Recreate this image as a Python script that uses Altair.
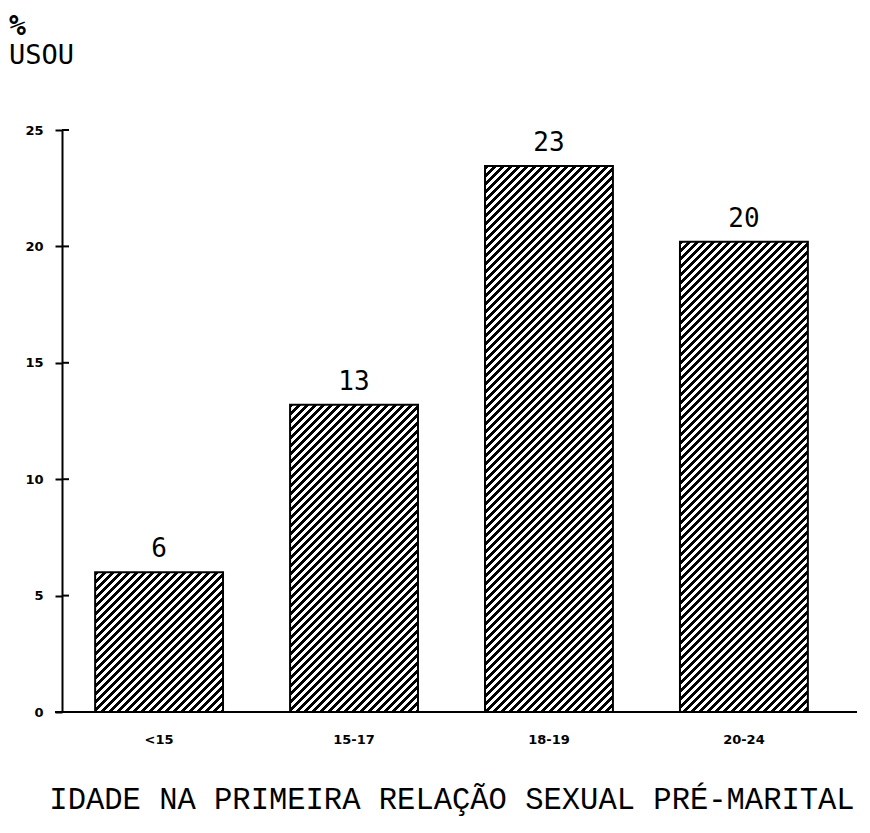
import math
import altair as alt
import pandas as pd

# ---- data ----
categories = ["<15", "15-17", "18-19", "20-24"]
values = [6.0, 13.2, 23.45, 20.2]
value_labels = ["6", "13", "23", "20"]
y_ticks = [0, 5, 10, 15, 20, 25]

# ---- layout ----
W, H = 779, 582
Y_MAX = 25
PAD_INNER, PAD_OUTER = 0.344, 0.17
HATCH_PERIOD = 8.0   # px, horizontal distance between hatch lines
HATCH_INK = 0.5      # share of each period that is black

df = pd.DataFrame({"cat": categories, "val": values, "lab": value_labels})
ticks_df = pd.DataFrame({"tick": y_ticks})

step = W / (len(categories) - PAD_INNER + 2 * PAD_OUTER)
bw = step * (1 - PAD_INNER)

x_enc = alt.X(
    "cat:N", sort=categories,
    scale=alt.Scale(paddingInner=PAD_INNER, paddingOuter=PAD_OUTER),
    axis=alt.Axis(
        title="IDADE NA PRIMEIRA RELAÇÃO SEXUAL PRÉ-MARITAL",
        titleFont="Liberation Mono", titleFontSize=30.5, titleFontWeight="normal",
        titleColor="black", titlePadding=38,
        labelAngle=0, labelFont="DejaVu Sans", labelFontWeight="bold",
        labelFontSize=13, labelColor="black", labelPadding=21,
        domain=False, ticks=False, grid=False,
    ),
)
y_enc = alt.Y(
    "val:Q",
    scale=alt.Scale(domain=[0, Y_MAX], nice=False),
    axis=alt.Axis(
        title=None, values=y_ticks, grid=False,
        domainColor="black", domainWidth=2,
        tickColor="black", tickWidth=2, tickSize=7,
        labelFont="DejaVu Sans", labelFontWeight="bold", labelFontSize=13,
        labelColor="black", labelPadding=12,
    ),
)


def hatch(w, h):
    """Diagonal '/' hatching as a hard-stop linear gradient (45 degrees)."""
    L = w + h
    n = L / HATCH_PERIOD
    stops = []
    k = 0
    while k / n < 1:
        a = k / n
        b = min(a + HATCH_INK / n, 1)
        c = min(a + 1 / n, 1)
        stops += [
            alt.GradientStop(color="black", offset=a),
            alt.GradientStop(color="black", offset=b),
            alt.GradientStop(color="white", offset=b),
            alt.GradientStop(color="white", offset=c),
        ]
        k += 1
    s = L / (w * w + h * h)
    return alt.LinearGradient(gradient="linear", stops=stops,
                              x1=0, y1=0, x2=w * s, y2=h * s)


layers = []
for cat, val in zip(categories, values):
    h = val / Y_MAX * H
    layers.append(
        alt.Chart(df).transform_filter(alt.datum.cat == cat)
        .mark_bar(fill=hatch(bw, h), stroke="black", strokeWidth=2)
        .encode(x=x_enc, y=y_enc)
    )

labels = alt.Chart(df).mark_text(
    font="DejaVu Sans Mono", fontSize=26, color="black", dy=-15, baseline="alphabetic"
).encode(x=alt.X("cat:N", sort=categories), y="val:Q", text="lab:N")

inner_ticks = alt.Chart(ticks_df).mark_rule(color="black", strokeWidth=2).encode(
    y=alt.Y("tick:Q"), x=alt.value(0), x2=alt.value(7)
)

x_domain = alt.Chart(ticks_df).transform_filter(alt.datum.tick == 0).mark_rule(
    color="black", strokeWidth=2
).encode(y=alt.Y("tick:Q"), x=alt.value(-7), x2=alt.value(795))

chart = alt.layer(*layers, labels, inner_ticks, x_domain).properties(
    width=W, height=H,
    background="white",
    autosize=alt.AutoSizeParams(type="none"),
    padding={"left": 54, "top": 122, "right": 20, "bottom": 118},
    title=alt.TitleParams(
        text="%", subtitle="USOU", anchor="start", frame="group", dx=-53, offset=55,
        font="DejaVu Sans Mono", fontSize=28, fontWeight="bold", color="black",
        subtitleFont="DejaVu Sans Mono", subtitleFontSize=27, subtitleColor="black",
        subtitlePadding=2,
    ),
).configure_view(stroke=None, strokeWidth=0)

chart.save("out.html", embed_options={"renderer": "svg", "actions": False})
